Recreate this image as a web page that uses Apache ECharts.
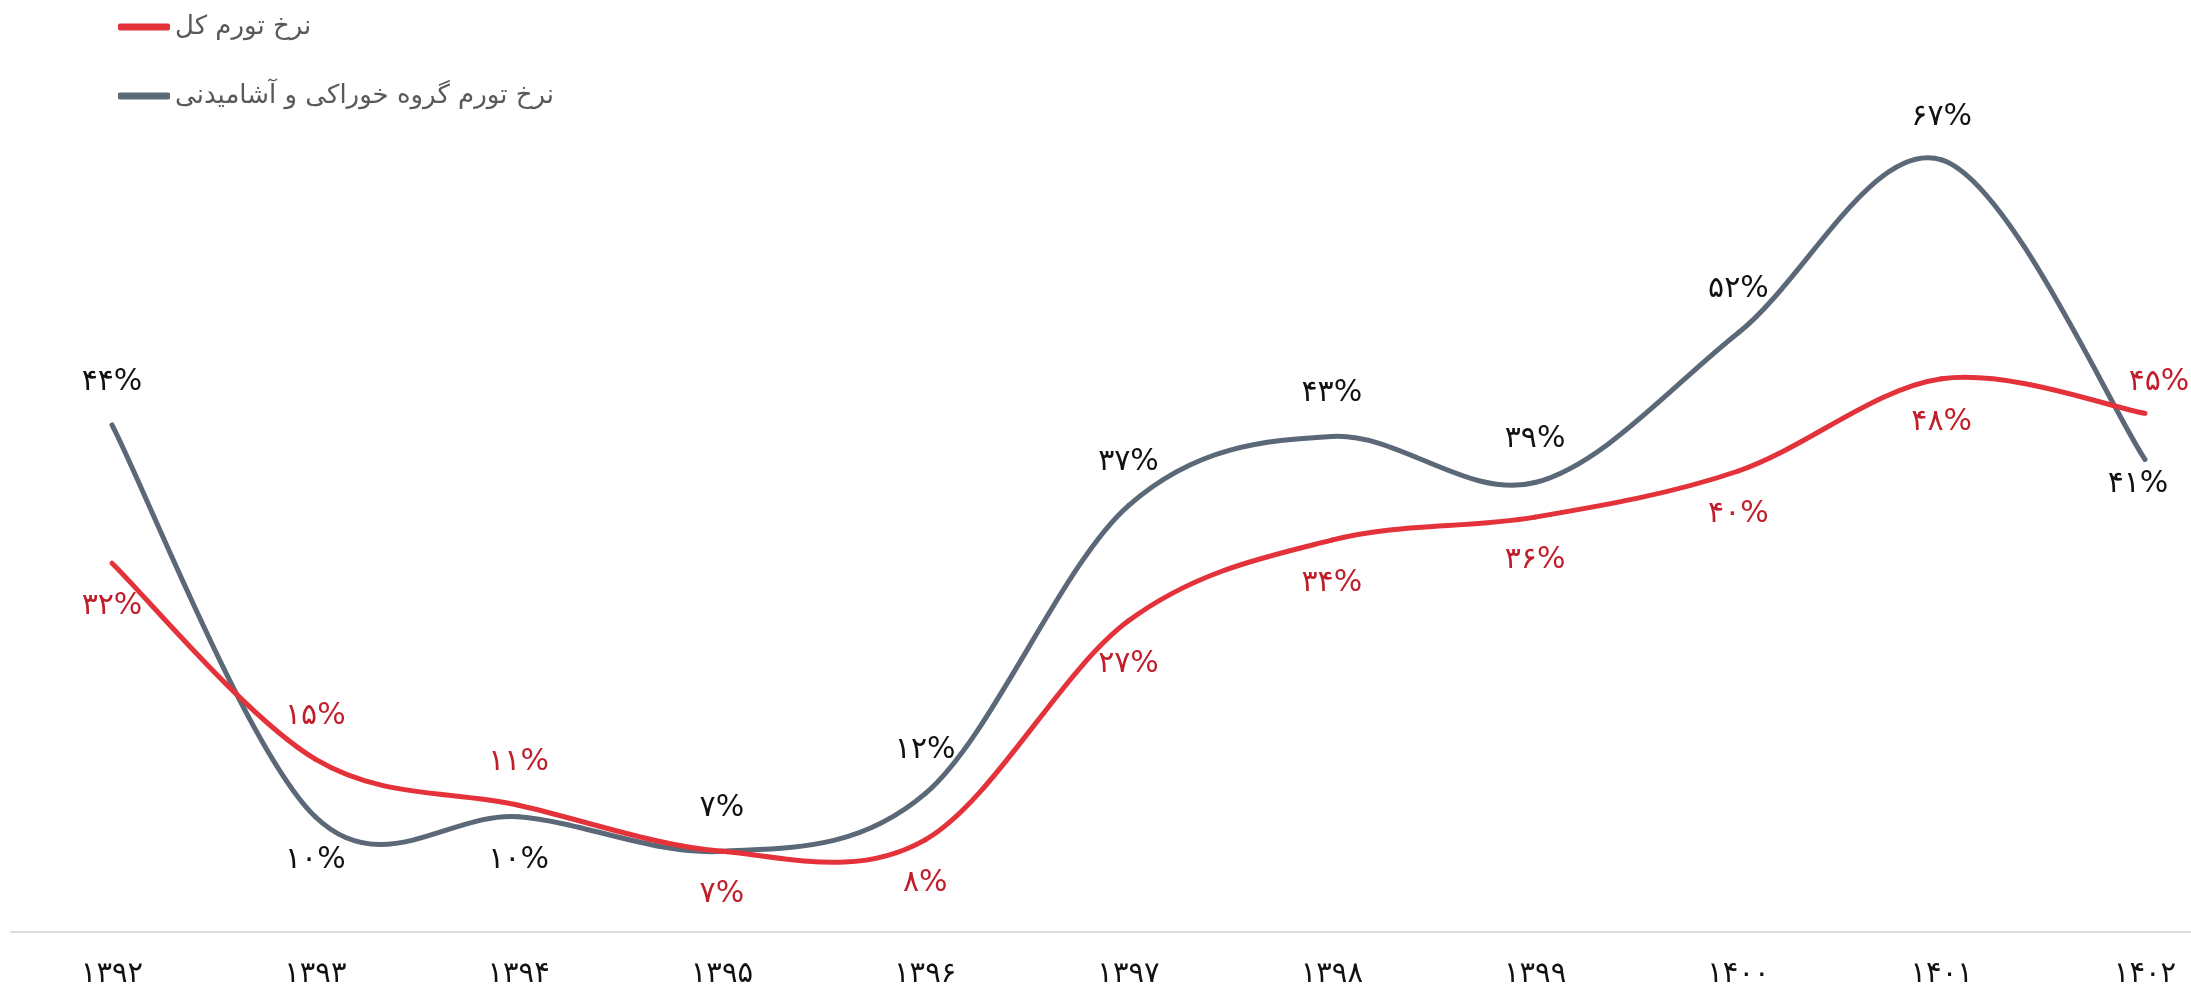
<!DOCTYPE html>
<html>
<head>
<meta charset="utf-8">
<script src="https://cdn.jsdelivr.net/npm/echarts@6/dist/echarts.min.js"></script>
<style>
  html, body { margin: 0; padding: 0; background: #ffffff; }
  #chart { width: 2191px; height: 990px; }
</style>
</head>
<body>
<div id="chart"></div>
<script>
// ---- data ----
const yearLabels = ['۱۳۹۲', '۱۳۹۳', '۱۳۹۴', '۱۳۹۵', '۱۳۹۶', '۱۳۹۷', '۱۳۹۸', '۱۳۹۹', '۱۴۰۰', '۱۴۰۱', '۱۴۰۲'];
const seriesNames = ['نرخ تورم کل', 'نرخ تورم گروه خوراکی و آشامیدنی'];
const totalInflation = [32, 15, 11, 7, 8, 27, 34, 36, 40, 48, 45];
const foodInflation = [44, 10, 10, 7, 12, 37, 43, 39, 52, 67, 41];

// ---- label placement (style, not data): 1 = below the point, -1 = above ----
const totalLabelSide = [1, -1, -1, 1, 1, 1, 1, 1, 1, 1, -1];
const foodLabelSide = [-1, 1, 1, -1, -1, -1, -1, -1, -1, -1, 1];
const totalLabelShift = [[0, 0], [0, 0], [0, 0], [0, 0], [0, 0], [0, 0], [0, 0], [0, 0], [0, 0], [0, 0], [14, 12]];
const foodLabelShift = [[0, 0], [0, 0], [0, 0], [0, 0], [0, 0], [0, 0], [0, 0], [0, 0], [0, 0], [0, 0], [-7, -18]];

const faDigits = '۰۱۲۳۴۵۶۷۸۹';
function toFa(n) { return String(n).replace(/[0-9]/g, d => faDigits[+d]); }

const RED = '#e3323a';
const RED_TEXT = '#c11e2b';
const GREY = '#5b6877';
const FONT = "'DejaVu Sans', 'Noto Sans', sans-serif";

function makeRender(values, lineColor, textColor, sides, shifts) {
  const n = values.length;
  return function (params, api) {
    const i = params.dataIndex;
    const pt = function (j) {
      const k = Math.max(0, Math.min(n - 1, j));
      return api.coord([k, values[k]]);
    };
    const children = [];
    if (i < n - 1) {
      const p0 = pt(i - 1), p1 = pt(i), p2 = pt(i + 1), p3 = pt(i + 2);
      const c1 = [p1[0] + (p2[0] - p0[0]) / 6, p1[1] + (p2[1] - p0[1]) / 6];
      const c2 = [p2[0] - (p3[0] - p1[0]) / 6, p2[1] - (p3[1] - p1[1]) / 6];
      children.push({
        type: 'bezierCurve',
        shape: { x1: p1[0], y1: p1[1], x2: p2[0], y2: p2[1], cpx1: c1[0], cpy1: c1[1], cpx2: c2[0], cpy2: c2[1] },
        style: { stroke: lineColor, lineWidth: 5, fill: 'none', lineCap: 'round' },
        z2: 1
      });
    }
    const p = pt(i);
    children.push({
      type: 'text',
      x: p[0] + shifts[i][0],
      y: p[1] + sides[i] * 43 + shifts[i][1],
      style: {
        text: toFa(values[i]) + '%',
        fill: textColor,
        font: '30px ' + FONT,
        align: 'center',
        verticalAlign: 'middle'
      },
      z2: 5
    });
    return { type: 'group', children: children };
  };
}

const chart = echarts.init(document.getElementById('chart'), null, { renderer: 'canvas' });
chart.setOption({
  backgroundColor: '#ffffff',
  animation: false,
  legend: {
    data: seriesNames,
    orient: 'vertical',
    left: 113,
    top: 9,
    itemGap: 43,
    itemWidth: 52,
    itemHeight: 7,
    icon: 'roundRect',
    textStyle: { color: '#595959', fontSize: 26, fontFamily: FONT, padding: [0, 0, 0, 0] }
  },
  grid: [
    { left: 112, right: 46, top: 10, bottom: 58 },
    { left: 11, right: 0, top: 10, bottom: 58 }
  ],
  xAxis: [
    {
      type: 'category',
      gridIndex: 0,
      data: yearLabels,
      boundaryGap: false,
      axisLine: { show: false },
      axisTick: { show: false },
      splitLine: { show: false },
      axisLabel: { color: '#111111', fontSize: 29, fontFamily: FONT, margin: 28 }
    },
    {
      type: 'value',
      gridIndex: 1,
      min: 0, max: 1,
      axisLine: { show: true, onZero: false, lineStyle: { color: '#dcdcdc', width: 2 } },
      axisTick: { show: false },
      axisLabel: { show: false },
      splitLine: { show: false }
    }
  ],
  yAxis: [
    { type: 'value', gridIndex: 0, min: 0, max: 80, show: false },
    { type: 'value', gridIndex: 1, min: 0, max: 1, show: false }
  ],
  series: [
    {
      name: seriesNames[0],
      type: 'custom',
      xAxisIndex: 0, yAxisIndex: 0,
      itemStyle: { color: RED },
      renderItem: makeRender(totalInflation, RED, RED_TEXT, totalLabelSide, totalLabelShift),
      encode: { x: 0, y: 1 },
      data: totalInflation.map((v, i) => [i, v]),
      z: 3
    },
    {
      name: seriesNames[1],
      type: 'custom',
      xAxisIndex: 0, yAxisIndex: 0,
      itemStyle: { color: GREY },
      renderItem: makeRender(foodInflation, GREY, '#111111', foodLabelSide, foodLabelShift),
      encode: { x: 0, y: 1 },
      data: foodInflation.map((v, i) => [i, v]),
      z: 2
    }
  ]
});
</script>
</body>
</html>
